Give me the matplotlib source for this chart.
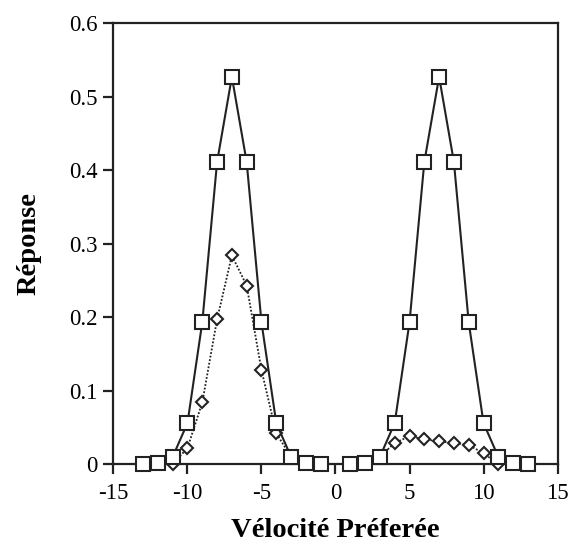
import matplotlib
matplotlib.use('Agg')
import matplotlib.pyplot as plt

plt.rcParams['font.family'] = ['Liberation Serif', 'DejaVu Serif']
plt.rcParams['axes.unicode_minus'] = False

# squares (solid line)
sq_left_x = [-13, -12, -11, -10, -9, -8, -7, -6, -5, -4, -3, -2, -1]
sq_left_y = [0.0, 0.002, 0.01, 0.056, 0.193, 0.411, 0.527, 0.411, 0.193, 0.056, 0.01, 0.002, 0.0]
sq_right_x = [1, 2, 3, 4, 5, 6, 7, 8, 9, 10, 11, 12, 13]
sq_right_y = [0.0, 0.002, 0.01, 0.056, 0.193, 0.411, 0.527, 0.411, 0.193, 0.056, 0.01, 0.002, 0.0]

# diamonds (dotted line)
di_left_x = [-11, -10, -9, -8, -7, -6, -5, -4, -3]
di_left_y = [0.0, 0.022, 0.084, 0.197, 0.284, 0.243, 0.128, 0.042, 0.01]
di_right_x = [3, 4, 5, 6, 7, 8, 9, 10, 11]
di_right_y = [0.01, 0.029, 0.038, 0.034, 0.031, 0.029, 0.026, 0.015, 0.0]

xticks = [-15, -10, -5, 0, 5, 10, 15]
yticks = [0, 0.1, 0.2, 0.3, 0.4, 0.5, 0.6]
ytick_labels = ['0', '0.1', '0.2', '0.3', '0.4', '0.5', '0.6']

fig = plt.figure(figsize=(5.73, 5.52), dpi=100)
ax = fig.add_axes([0.198, 0.159, 0.775, 0.799])

for x, y in [(di_left_x, di_left_y), (di_right_x, di_right_y)]:
    ax.plot(x, y, color='#222222', lw=1.3, ls=(0, (1, 1)), marker='D', ms=6.5,
            mfc='white', mec='#222222', mew=1.5, clip_on=False, zorder=3)

for x, y in [(sq_left_x, sq_left_y), (sq_right_x, sq_right_y)]:
    ax.plot(x, y, color='#222222', lw=1.5, marker='s', ms=10.5,
            mfc='white', mec='#222222', mew=1.5, clip_on=False, zorder=4)

ax.set_xlim(-15, 15)
ax.set_ylim(0, 0.6)
ax.set_xticks(xticks)
ax.set_xticklabels([str(t) for t in xticks])
ax.set_yticks(yticks)
ax.set_yticklabels(ytick_labels)

for s in ax.spines.values():
    s.set_linewidth(1.6)
    s.set_color('#222222')
ax.tick_params(direction='out', length=7.5, width=1.6, color='#222222',
               labelsize=16.5, pad=4)
ax.tick_params(axis='x', pad=6)

ax.set_xlabel('Vélocité Préferée', fontsize=20.5, fontweight='bold', labelpad=10)
ax.set_ylabel('Réponse', fontsize=20.5, fontweight='bold', labelpad=20)

fig.savefig('out.png', dpi=100)
